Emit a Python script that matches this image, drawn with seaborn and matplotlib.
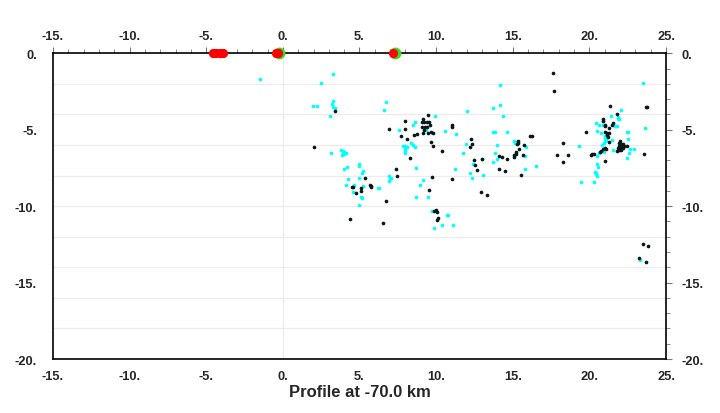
import matplotlib
matplotlib.use("Agg")
import matplotlib.pyplot as plt
import seaborn as sns
import pandas as pd
from matplotlib.ticker import MultipleLocator, FuncFormatter

# ---- data (km along profile, depth km) ----
cyan_x = [-1.47, 3.24, 2.48, 3.26, 3.2, 3.26, 3.39, 1.96, 2.24, 3.09,
          3.8, 3.9, 4.0, 4.1, 3.85, 4.0, 3.95, 3.16, 4.18, 4.02, 4.94, 4.96,
          4.94, 4.24, 4.15, 4.63, 4.55, 4.96, 5.15, 5.26, 5.22, 6.26, 5.09, 5.18,
          6.9, 6.96, 7.03, 6.91, 6.24, 6.76, 6.63,
          7.55, 8.59, 8.5, 9.18, 9.31, 9.94, 10.59, 11.31, 12.03,
          7.83, 7.94, 8.09, 7.98, 7.94, 7.98, 8.33, 8.48, 8.59,
          11.98, 11.74, 8.7, 11.25, 9.16, 8.92, 8.68, 9.44,
          9.7, 10.68, 10.79, 10.4, 11.07, 9.85,
          14.2, 14.2, 13.74, 14.38, 13.7, 13.81, 14.61,
          13.96, 15.07, 15.16, 15.22, 15.85, 15.77,
          16.53, 15.83, 13.81, 13.94, 13.74, 12.98,
          12.39, 12.24, 12.31, 13.07,
          23.48, 23.66, 22.07, 21.42, 21.9, 21.96, 21.9,
          20.87, 20.44, 20.66, 20.9, 21.64, 21.75, 21.81,
          20.51, 20.79, 21.0, 22.44, 22.5, 22.55, 21.49,
          21.0, 20.96, 20.83, 22.66, 22.88, 22.6, 21.53,
          20.96, 19.33, 20.49, 20.61, 22.47, 20.51, 20.55,
          20.35, 20.44, 20.44, 20.51, 19.44, 20.29, 23.29, 21.05, 21.1]
cyan_y = [-1.68, -1.37, -1.92, -3.12, -3.32, -3.49, -3.6, -3.47, -3.45, -4.1,
          -6.3, -6.5, -6.45, -6.55, -6.65, -6.6, -6.4, -6.5, -7.44, -7.57, -7.24, -7.35,
          -8.14, -8.25, -8.6, -8.6, -9.1, -9.95, -7.85, -7.72, -8.66, -8.82, -9.38, -9.45,
          -8.0, -8.23, -8.14, -8.34, -8.84, -3.21, -3.73,
          -5.04, -4.47, -4.71, -4.91, -5.0, -4.12, -5.06, -5.28, -3.8,
          -6.09, -6.09, -6.11, -6.26, -6.41, -6.52, -5.87, -5.98, -6.11,
          -5.91, -6.54, -7.48, -7.59, -8.31, -8.62, -9.38, -9.38,
          -10.32, -10.56, -10.6, -11.21, -11.21, -11.45,
          -2.07, -3.36, -3.6, -4.1, -5.13, -5.17, -5.13,
          -6.02, -5.76, -5.85, -5.8, -6.11, -6.74,
          -7.35, -7.57, -6.54, -6.94, -7.11, -6.92,
          -7.24, -7.83, -8.18, -7.94,
          -1.92, -4.87, -3.69, -4.1, -4.19, -4.32, -4.32,
          -4.41, -4.54, -4.67, -4.69, -4.78, -4.76, -4.76,
          -5.06, -5.24, -5.39, -5.17, -5.17, -5.61, -5.69,
          -5.74, -5.89, -6.0, -6.28, -6.28, -6.5, -6.33,
          -6.44, -6.04, -6.72, -6.5, -6.85, -7.24, -7.46,
          -7.79, -7.81, -7.88, -8.01, -8.4, -8.42, -13.51, -5.55, -5.65]

black_x = [3.37, 2.02, 4.55, 4.76, 4.4, 5.35, 4.53, 5.11, 5.13, 5.68, 5.77, 5.74,
           6.74, 7.37, 7.44, 6.52, 6.91, 8.0, 8.0, 7.7, 8.57, 8.77, 8.09,
           9.46, 9.13, 9.11, 9.24, 9.42, 9.55, 9.29, 9.42, 9.09, 9.59, 9.24,
           9.13, 9.46, 9.68, 9.79, 11.02, 11.02, 9.65, 9.79, 10.37, 8.28,
           9.72, 9.53, 11.05, 9.83, 9.96, 10.07, 10.11, 10.03,
           17.61, 17.66, 16.11, 16.24, 12.26, 12.31, 12.24,
           15.33, 15.37, 15.29, 15.4, 15.72, 15.18, 15.24, 15.07, 15.11, 15.68,
           18.26, 17.92, 18.59, 18.26, 15.52,
           14.12, 14.31, 14.61, 12.98, 12.48, 12.52, 12.68, 14.12, 14.51, 12.9, 13.35,
           23.77, 23.7, 21.36, 21.83, 20.87, 20.92, 21.0, 21.05, 21.49, 21.55, 21.25,
           21.05, 21.18, 21.27, 21.12, 21.2, 19.79,
           21.31, 22.0, 21.96, 22.07, 22.18, 21.92, 22.03, 22.14, 22.24,
           21.85, 21.96, 22.07, 22.18, 21.96, 22.07,
           22.44, 21.79, 20.99, 20.87, 21.1, 20.79, 20.71,
           20.18, 20.09, 20.27, 21.03, 23.57,
           23.48, 23.81, 23.25, 23.68]
black_y = [-3.78, -6.15, -8.73, -9.14, -10.84, -8.14, -8.75, -8.84, -8.99, -8.62, -8.71, -8.77,
           -9.64, -7.57, -8.0, -11.08, -4.95, -4.43, -4.95, -5.41, -5.33, -5.28, -5.63,
           -4.04, -4.32, -4.52, -4.52, -4.52, -4.52, -4.8, -4.84, -4.84, -4.69, -5.02,
           -5.24, -5.24, -5.17, -5.24, -4.69, -4.8, -5.83, -6.09, -6.41, -6.87,
           -8.11, -8.97, -8.25, -10.32, -10.26, -10.37, -10.78, -10.93,
           -1.31, -2.49, -5.39, -5.41, -5.63, -5.94, -6.11,
           -5.85, -5.76, -5.94, -6.24, -6.02, -6.48, -6.59, -6.68, -6.79, -6.63,
           -5.85, -6.63, -6.63, -7.09, -7.98,
           -6.7, -6.79, -6.92, -6.92, -6.98, -7.33, -7.66, -7.59, -7.68, -9.06, -9.27,
           -3.51, -3.53, -3.47, -3.97, -4.32, -4.41, -4.71, -4.76, -4.67, -4.56, -4.87,
           -5.17, -5.2, -5.24, -5.37, -5.46, -5.17,
           -5.81, -5.72, -5.89, -5.94, -5.94, -6.07, -6.07, -6.07, -6.07,
           -6.2, -6.2, -6.2, -6.2, -6.33, -6.33,
           -6.07, -6.41, -6.2, -6.26, -6.26, -6.41, -6.48,
           -6.57, -6.66, -6.61, -7.03, -6.61,
           -12.5, -12.59, -13.42, -13.66]

green_x = [-0.25, 7.3]
green_y = [0.0, 0.0]
red_x = [-4.55, -4.35, -4.1, -3.9, -0.48, -0.3, 7.18]
red_y = [0.0, 0.0, 0.0, 0.0, 0.0, 0.0, 0.0]

xlabel = "Profile at -70.0 km"

# ---- plotting ----
sns.set_style("white")
plt.rcParams['font.family'] = ['Liberation Sans', 'DejaVu Sans']

fig = plt.figure(figsize=(7.2, 4.14), dpi=100)
ax = fig.add_axes([0.0736, 0.1304, 0.8514, 0.7384])

ax.axvline(0, color='#ececec', lw=0.9, zorder=0)
for yy in range(-18, 0, 2):
    ax.axhline(yy, color='#ececec', lw=0.9, zorder=0)

cyan_df = pd.DataFrame({'x': cyan_x, 'y': cyan_y})
black_df = pd.DataFrame({'x': black_x, 'y': black_y})
sns.scatterplot(data=cyan_df, x='x', y='y', ax=ax, color='#00ffff', marker='o',
                s=7, linewidth=0, zorder=3)
sns.scatterplot(data=black_df, x='x', y='y', ax=ax, color='#081818', marker='o',
                s=7, linewidth=0, zorder=4)

ax.scatter(green_x, green_y, s=72, color='#33dd22', linewidth=0, zorder=5, clip_on=False)
ax.scatter(red_x, red_y, s=44, color='#ff0000', linewidth=0, zorder=6, clip_on=False)

ax.set_xlim(-15, 25)
ax.set_ylim(-20, 0)

fmt = FuncFormatter(lambda v, p: "0." if abs(v) < 1e-9 else f"{v:.0f}.")
for axis in (ax.xaxis, ax.yaxis):
    axis.set_major_locator(MultipleLocator(5))
    axis.set_minor_locator(MultipleLocator(1))
    axis.set_major_formatter(fmt)

ax.tick_params(which='both', direction='out', top=True, right=True,
               labeltop=True, labelright=True, color='#777777')
ax.tick_params(which='major', length=4, width=0.8, labelsize=9.3)
ax.tick_params(which='minor', length=3, width=0.6)
ax.tick_params(axis='x', which='major', pad=4)
ax.tick_params(axis='y', which='major', pad=7.5)
for t in ax.xaxis.get_major_ticks() + ax.yaxis.get_major_ticks():
    t.label1.set_fontweight('bold')
    t.label2.set_fontweight('bold')

for sp in ax.spines.values():
    sp.set_color('black')
    sp.set_linewidth(1.2)
    sp.set_visible(True)

ax.set_xlabel(xlabel, fontsize=12, fontweight='bold', labelpad=1)
ax.set_ylabel("")

fig.savefig("out.png", dpi=100)
